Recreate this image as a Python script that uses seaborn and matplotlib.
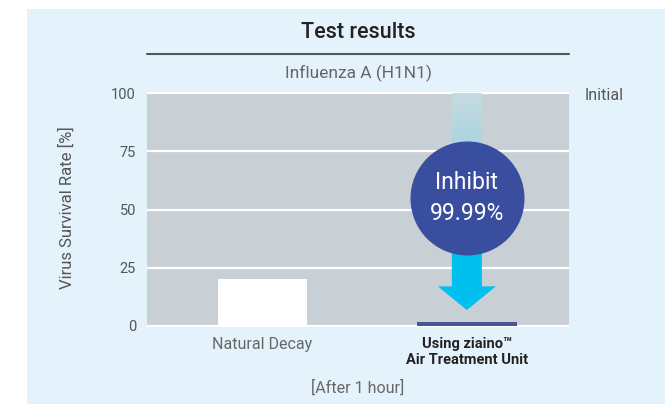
import pandas as pd
import matplotlib.pyplot as plt
import seaborn as sns
import numpy as np
from matplotlib.patches import Rectangle, FancyArrow
from matplotlib.lines import Line2D
from matplotlib.colors import LinearSegmentedColormap

# Data
categories = ['Natural Decay', 'Using ziaino™\nAir Treatment Unit']
survival = [20, 1.5]
bar_colors = ['#ffffff', '#3a4ea0']
y_ticks = [0, 25, 50, 75, 100]

sns.set_theme(style="white")
plt.rcParams['font.family'] = ['Roboto', 'DejaVu Sans']

df = pd.DataFrame({'Condition': categories, 'Survival': survival})

fig = plt.figure(figsize=(6.65, 4.04), dpi=100)
fig.patch.set_facecolor('white')

# light blue panel behind everything
fig.patches.append(Rectangle((27 / 665, 0), 1, 1 - 9 / 404, transform=fig.transFigure,
                             facecolor='#e4f3fb', edgecolor='none', zorder=-10))

ax = fig.add_axes([147 / 665, 1 - 327 / 404, 422 / 665, 235 / 404])
ax.set_facecolor('#c8cfd5')

sns.barplot(data=df, x='Condition', y='Survival', hue='Condition', palette=bar_colors,
            legend=False, width=0.46, ax=ax, zorder=3)

# slightly different bar widths like the original
for patch, w in zip(ax.patches, [0.436, 0.49]):
    cx = patch.get_x() + patch.get_width() / 2
    patch.set_width(w)
    patch.set_x(cx - w / 2)
    patch.set_edgecolor('none')

ax.set_yticks(y_ticks)
ax.yaxis.grid(True, color='white', linewidth=1.6)
ax.set_axisbelow(True)
for s in ax.spines.values():
    s.set_visible(False)
ax.tick_params(axis='y', length=0, pad=8, labelsize=10.5, labelcolor='#555555')
ax.tick_params(axis='x', length=0, pad=7, labelsize=11.5, labelcolor='#666666')
lbls = ax.get_xticklabels()
lbls[1].set_fontweight('bold')
lbls[1].set_fontsize(10.5)
lbls[1].set_color('#222222')
for l in lbls:
    l.set_multialignment('center')

ax.set_xlabel('')
ax.set_ylabel('Virus Survival Rate [%]', fontsize=12, color='#555555')
ax.yaxis.set_label_coords(-0.171, 0.51)

# gradient stem above the circle (muted at the top, bluer near the circle)
grad = LinearSegmentedColormap.from_list('g', ['#c6dbe1', '#8dcfe0'])
ax.imshow(np.linspace(1, 0, 100).reshape(-1, 1), cmap=grad, aspect='auto',
          extent=[0.927, 1.073, 55, 100], origin='lower', zorder=4)
ax.set_xlim(-0.566, 1.5)
ax.set_ylim(-0.6, 100.6)

# cyan arrow pointing down
ax.add_patch(FancyArrow(1, 55, 0, -48.3, width=0.147, head_width=0.284, head_length=10.2,
                        length_includes_head=True, color='#00c0f0', zorder=5, linewidth=0))

# circle badge
ax.scatter([1], [54.9], s=6740, color='#3a4ea0', zorder=6, linewidths=0)
ax.text(1, 61.5, 'Inhibit', ha='center', va='center', color='white', fontsize=16.5, zorder=7)
ax.text(1, 48.3, '99.99%', ha='center', va='center', color='white', fontsize=16.5, zorder=7)

# titles and side notes
fig.text(358 / 665, 1 - 33 / 404, 'Test results', ha='center', va='center',
         fontsize=15.5, fontweight='medium', color='#222222')
fig.lines.append(Line2D([147 / 665, 569 / 665], [1 - 54 / 404, 1 - 54 / 404],
                        transform=fig.transFigure, color='#555555', linewidth=1.5))
fig.text(358 / 665, 1 - 73 / 404, 'Influenza A (H1N1)', ha='center', va='center',
         fontsize=12.5, color='#666666')
fig.text(585 / 665, 1 - 96 / 404, 'Initial', ha='left', va='center',
         fontsize=11.5, color='#555555')
fig.text(358 / 665, 1 - 388 / 404, '[After 1 hour]', ha='center', va='center',
         fontsize=11.5, color='#666666')

plt.savefig('out.png', dpi=100)
plt.close()
